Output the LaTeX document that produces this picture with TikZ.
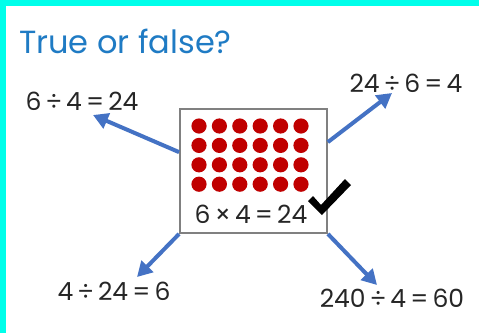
\documentclass[tikz,border=0pt]{standalone}
\usepackage{fontspec}
\setmainfont{Poppins}
\usetikzlibrary{arrows.meta,calc}
\definecolor{frame}{HTML}{00FFEA}
\definecolor{titleblue}{HTML}{1F7BC4}
\definecolor{arrowblue}{HTML}{4472C4}
\definecolor{dotred}{HTML}{C00000}
\definecolor{boxgray}{HTML}{808080}
\definecolor{eqtext}{HTML}{262626}
\tikzset{
  eq/.style={text=eqtext, font=\fontsize{25}{28}\selectfont, inner sep=0pt},
  arr/.style={draw=arrowblue, line width=4pt, -{Triangle[length=15pt,width=16pt]}},
  dot/.style={fill=dotred, draw=none}
}
\begin{document}
\begin{tikzpicture}[x=1pt,y=-1pt]
\useasboundingbox (0,0) rectangle (479,333);
\fill[white] (0,0) rectangle (479,333);
\fill[frame] (0,0) rectangle (479,6);
\fill[frame] (0,0) rectangle (6,333);
\node[anchor=base west, text=titleblue, font=\fontsize{32}{36}\selectfont, inner sep=0pt] (title) at (19,53) {True or false?};
% box
\node[draw=boxgray, line width=1.8pt, fill=white, minimum width=147pt, minimum height=124pt, inner sep=0pt] (box) at (253.5,171) {};
\foreach \i in {0,...,5}{
  \foreach \j in {0,...,3}{
    \fill[dot] ({199+20.4*\i},{126+19.4*\j}) circle (7.6);
  }
}
\node[eq] (prod) at (251,214) {6\,×\,4\,=\,24};
% check
\fill[black] (308,201) -- (313,196) -- (321,205) -- (345,179) -- (351,185) -- (322,215) -- cycle;
% labels
\node[eq] (l1) at (82,101) {6\,÷\,4\,=\,24};
\node[eq] (l2) at (406,83) {24\,÷\,6\,=\,4};
\node[eq] (l3) at (114,291) {4\,÷\,24\,=\,6};
\node[eq] (l4) at (392,298) {240\,÷\,4\,=\,60};
% arrow ends
\coordinate (t1) at (93,115);
\coordinate (t2) at (392,93);
\coordinate (t3) at (137,277);
\coordinate (t4) at (377,285);
\draw[arr] ($(box.north west)!0.35!(box.south west)$) -- (t1);
\draw[arr] ($(box.north east)!0.27!(box.south east)$) -- (t2);
\draw[arr] (box.south west) -- (t3);
\draw[arr] (box.south east) -- (t4);
\end{tikzpicture}
\end{document}
